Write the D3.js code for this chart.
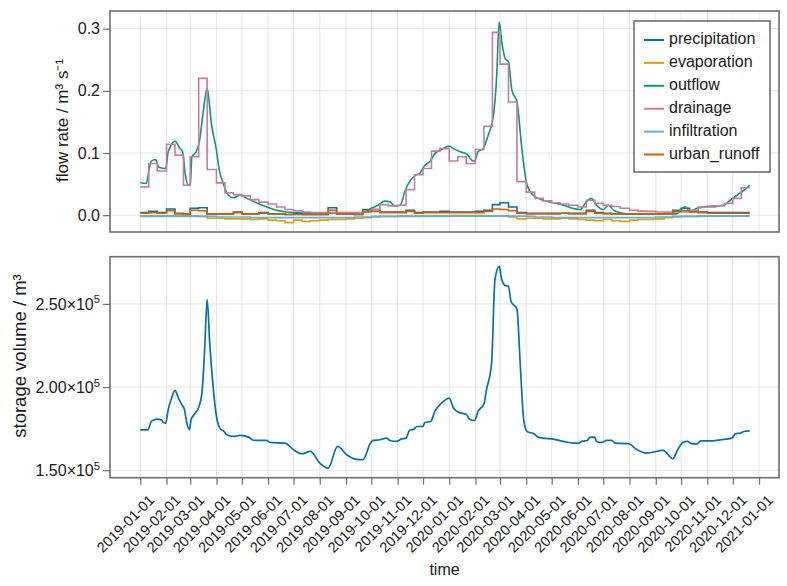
<!DOCTYPE html>
<html><head><meta charset="utf-8">
<script src="https://cdn.jsdelivr.net/npm/d3@7"></script>
<style>
body{margin:0;background:#fff;}
svg{display:block;font-family:"Liberation Sans",Arial,Helvetica,sans-serif;}
</style>
</head><body>
<svg id="chart" width="787" height="586"></svg>
<script>
// ---------------- DATA ----------------
const monthTicks = ["2019-01-01","2019-02-01","2019-03-01","2019-04-01","2019-05-01","2019-06-01","2019-07-01","2019-08-01","2019-09-01","2019-10-01","2019-11-01","2019-12-01","2020-01-01","2020-02-01","2020-03-01","2020-04-01","2020-05-01","2020-06-01","2020-07-01","2020-08-01","2020-09-01","2020-10-01","2020-11-01","2020-12-01","2021-01-01"];
const flowTicks = [0, 0.1, 0.2, 0.3];
const flowTickLabels = ["0.0","0.1","0.2","0.3"];
const storageTicks = [150000, 200000, 250000];
const storageTickMantissa = ["1.50","2.00","2.50"];

const seriesNames = ["precipitation","evaporation","outflow","drainage","infiltration","urban_runoff"];
const seriesColors = ["#0072B2","#E69F00","#009E73","#CC79A7","#56B4E9","#D55E00"];

// dekad boundaries (last entry closes the final step)
const dekadDates = ["2019-01-01","2019-01-11","2019-01-21","2019-02-01","2019-02-11","2019-02-21","2019-03-01","2019-03-11","2019-03-21","2019-04-01","2019-04-11","2019-04-21","2019-05-01","2019-05-11","2019-05-21","2019-06-01","2019-06-11","2019-06-21","2019-07-01","2019-07-11","2019-07-21","2019-08-01","2019-08-11","2019-08-21","2019-09-01","2019-09-11","2019-09-21","2019-10-01","2019-10-11","2019-10-21","2019-11-01","2019-11-11","2019-11-21","2019-12-01","2019-12-11","2019-12-21",
"2020-01-01","2020-01-11","2020-01-21","2020-02-01","2020-02-11","2020-02-21","2020-03-01","2020-03-11","2020-03-21","2020-04-01","2020-04-11","2020-04-21","2020-05-01","2020-05-11","2020-05-21","2020-06-01","2020-06-11","2020-06-21","2020-07-01","2020-07-11","2020-07-21","2020-08-01","2020-08-11","2020-08-21","2020-09-01","2020-09-11","2020-09-21","2020-10-01","2020-10-11","2020-10-21","2020-11-01","2020-11-11","2020-11-21","2020-12-01","2020-12-11","2020-12-21"];

const precipitation = [0.004,0.006,0.004, 0.010,0.003,0.002, 0.011,0.012,0.002, 0.002,0.002,0.005, 0.002,0.002,0.004, 0.002,0.002,0.001, 0.002,0.001,0.001, 0.001,0.012,0.002, 0.002,0.001,0.009, 0.009,0.005,0.005, 0.005,0.008,0.004, 0.005,0.005,0.006,
 0.005,0.005,0.005, 0.006,0.008,0.017, 0.020,0.013,0.004, 0.003,0.003,0.003, 0.003,0.003,0.003, 0.003,0.008,0.004, 0.003,0.002,0.002, 0.002,0.002,0.002, 0.002,0.003,0.008, 0.011,0.006,0.005, 0.004,0.004,0.004, 0.004,0.004];

const evaporation = [-0.001,-0.001,-0.001, -0.001,-0.001,-0.001, -0.001,-0.002,-0.005, -0.005,-0.006,-0.006, -0.006,-0.007,-0.006, -0.008,-0.009,-0.012, -0.008,-0.010,-0.009, -0.008,-0.007,-0.007, -0.006,-0.005,-0.004, -0.003,-0.002,-0.002, -0.001,-0.001,-0.001, -0.001,-0.001,-0.001,
 -0.0005,-0.0005,-0.0005, -0.0005,-0.001,-0.001, -0.001,-0.003,-0.006, -0.005,-0.005,-0.006, -0.006,-0.005,-0.006, -0.007,-0.008,-0.009, -0.007,-0.009,-0.010, -0.008,-0.007,-0.007, -0.006,-0.004,-0.003, -0.002,-0.002,-0.001, -0.001,-0.001,-0.001, -0.001,-0.001];

const drainage = [0.0455,0.083,0.071, 0.114,0.0965,0.048, 0.094,0.220,0.0735, 0.052,0.036,0.033, 0.031,0.025,0.021, 0.018,0.013,0.009, 0.007,0.005,0.004, 0.004,0.004,0.004, 0.004,0.004,0.005, 0.009,0.017,0.015, 0.016,0.041,0.065, 0.075,0.103,0.107,
 0.087,0.094,0.083, 0.1055,0.143,0.294, 0.243,0.182,0.054, 0.037,0.027,0.023, 0.020,0.018,0.016, 0.013,0.024,0.019, 0.016,0.014,0.011, 0.008,0.0065,0.006, 0.005,0.005,0.005, 0.005,0.008,0.013, 0.013,0.015,0.019, 0.027,0.044];

const infiltration = [-0.002,-0.002,-0.002, -0.002,-0.002,-0.002, -0.002,-0.002,-0.002, -0.003,-0.003,-0.003, -0.003,-0.004,-0.004, -0.004,-0.004,-0.004, -0.004,-0.004,-0.004, -0.004,-0.004,-0.004, -0.004,-0.003,-0.003, -0.002,-0.002,-0.002, -0.002,-0.002,-0.002, -0.002,-0.002,-0.002,
 -0.0015,-0.0015,-0.0015, -0.0015,-0.0015,-0.0015, -0.0015,-0.0015,-0.0015, -0.002,-0.003,-0.003, -0.004,-0.004,-0.004, -0.004,-0.004,-0.004, -0.004,-0.004,-0.004, -0.004,-0.004,-0.004, -0.003,-0.003,-0.002, -0.002,-0.002,-0.002, -0.0015,-0.0015,-0.0015, -0.0015,-0.0015];

const urbanRunoff = [0.003,0.004,0.003, 0.007,0.002,0.002, 0.008,0.007,0.002, 0.002,0.002,0.004, 0.002,0.002,0.003, 0.002,0.002,0.001, 0.001,0.001,0.001, 0.001,0.008,0.002, 0.002,0.001,0.006, 0.006,0.004,0.004, 0.004,0.006,0.003, 0.004,0.004,0.004,
 0.004,0.004,0.004, 0.004,0.006,0.010, 0.009,0.007,0.003, 0.002,0.002,0.002, 0.002,0.003,0.002, 0.002,0.006,0.003, 0.002,0.002,0.002, 0.002,0.002,0.002, 0.002,0.002,0.006, 0.007,0.005,0.004, 0.003,0.003,0.003, 0.003,0.003];

const outflowDates = ["2019-01-01","2019-01-08","2019-01-12","2019-01-14","2019-01-19","2019-01-23","2019-01-31","2019-02-03","2019-02-11","2019-02-17","2019-02-20","2019-02-23","2019-02-27","2019-03-01","2019-03-03","2019-03-08","2019-03-12","2019-03-16","2019-03-21","2019-03-26","2019-04-01","2019-04-04","2019-04-09","2019-04-15","2019-04-21","2019-04-29","2019-05-07","2019-05-18","2019-05-30","2019-06-11","2019-06-21","2019-07-05","2019-07-30","2019-08-24","2019-09-21","2019-10-01","2019-10-09","2019-10-17","2019-10-23","2019-10-29","2019-11-04","2019-11-10","2019-11-16","2019-11-22","2019-11-27","2019-12-03","2019-12-09","2019-12-15","2019-12-23",
"2020-01-01","2020-01-06","2020-01-14","2020-01-22","2020-01-28","2020-01-31","2020-02-04","2020-02-10","2020-02-16","2020-02-22","2020-02-26","2020-02-29","2020-03-03","2020-03-07","2020-03-11","2020-03-15","2020-03-21","2020-03-27","2020-04-02","2020-04-09","2020-04-21","2020-05-03","2020-05-15","2020-05-27","2020-06-04","2020-06-10","2020-06-17","2020-06-23","2020-07-01","2020-07-07","2020-07-13","2020-07-21","2020-08-02","2020-09-26","2020-09-30","2020-10-06","2020-10-11","2020-10-20","2020-10-27","2020-11-08","2020-11-20","2020-11-28","2020-12-06","2020-12-14","2020-12-21"];
const outflowValues = [0.052,0.051,0.078,0.087,0.0895,0.077,0.075,0.102,0.119,0.107,0.102,0.067,0.048,0.050,0.094,0.102,0.120,0.163,0.204,0.147,0.104,0.075,0.051,0.032,0.028,0.032,0.027,0.020,0.0134,0.008,0.0054,0.004,0.003,0.003,0.004,0.011,0.016,0.0225,0.021,0.0145,0.016,0.040,0.056,0.064,0.067,0.080,0.086,0.099,0.1056,
0.111,0.107,0.102,0.098,0.088,0.087,0.102,0.107,0.1286,0.158,0.222,0.311,0.279,0.252,0.2465,0.201,0.182,0.1045,0.048,0.032,0.024,0.020,0.016,0.0107,0.009,0.020,0.027,0.016,0.009,0.016,0.008,0.004,0.0016,0.002,0.008,0.0134,0.006,0.011,0.013,0.0145,0.016,0.024,0.032,0.040,0.048];

const storageDates = ["2019-01-01","2019-01-10","2019-01-14","2019-01-20","2019-01-26","2019-01-28","2019-01-31","2019-02-03","2019-02-07","2019-02-11","2019-02-15","2019-02-19","2019-02-22","2019-02-25","2019-02-28","2019-03-02","2019-03-07","2019-03-11","2019-03-15","2019-03-18","2019-03-21","2019-03-24","2019-03-28","2019-04-01","2019-04-05","2019-04-10","2019-04-13","2019-04-21","2019-04-29","2019-05-09","2019-05-15","2019-05-30","2019-06-03","2019-06-21","2019-07-01","2019-07-11","2019-07-21","2019-08-01","2019-08-11","2019-08-22","2019-09-02","2019-09-12","2019-09-21","2019-09-30","2019-10-03","2019-10-11","2019-10-19","2019-10-23","2019-10-31","2019-11-05","2019-11-11","2019-11-15","2019-11-20","2019-11-24","2019-12-01","2019-12-03","2019-12-10","2019-12-15","2019-12-23",
"2020-01-01","2020-01-06","2020-01-12","2020-01-21","2020-01-25","2020-01-31","2020-02-04","2020-02-11","2020-02-14","2020-02-20","2020-02-24","2020-02-29","2020-03-03","2020-03-07","2020-03-11","2020-03-14","2020-03-21","2020-03-25","2020-03-29","2020-04-02","2020-04-10","2020-04-15","2020-04-21","2020-05-03","2020-05-15","2020-05-27","2020-06-02","2020-06-06","2020-06-12","2020-06-15","2020-06-21","2020-06-23","2020-06-29","2020-07-05","2020-07-11","2020-07-15","2020-07-31","2020-08-10","2020-08-21","2020-09-10","2020-09-21","2020-09-27","2020-10-03","2020-10-08","2020-10-14","2020-10-20","2020-10-24","2020-11-08","2020-11-16","2020-11-30","2020-12-04","2020-12-10","2020-12-14","2020-12-21"];
const storageValues = [174300,174300,179300,180700,180300,178700,178300,186400,193400,198000,193400,189400,186800,178300,174300,180300,184400,187800,197400,222500,252600,226500,200400,182300,175300,173300,171300,170300,170900,169900,167900,167900,166700,166300,162300,159900,161300,154300,151300,164300,159300,156700,156300,166300,167900,168300,169300,167900,167300,168700,169300,173900,174700,176300,176300,178700,179300,185400,190400,
193400,187400,184800,183600,180700,179900,185400,190000,198400,214000,264600,272600,264600,261200,260600,251500,246900,212400,180300,173300,171900,169900,169300,168700,167300,166300,166300,167500,167900,169700,169900,167300,166700,167900,167900,166300,165900,162300,160300,161900,156900,162300,166700,167300,165900,165900,167700,167700,168300,169300,171900,172300,173300,173700];

// ---------------- LAYOUT ----------------
const L = 110, R = 779;
const P1 = {top: 11, bottom: 232};
const P2 = {top: 256.7, bottom: 477.7};
const FS_TICK = 16, FS_LEG = 16, FS_XTICK = 14.5;
const frameColor = "#6f6f6f";
const gridColor = "#e6e6e6";
const textColor = "#1a1a1a";

const parse = d3.utcParse("%Y-%m-%d");
const svg = d3.select("#chart");

const x = d3.scaleUtc()
  .domain([new Date(Date.UTC(2018,10,26,4,48)), new Date(Date.UTC(2021,0,24,14,24))])
  .range([L, R]);
const y1 = d3.scaleLinear().domain([-0.0271, 0.3284]).range([P1.bottom, P1.top]);
const y2 = d3.scaleLinear().domain([145500, 278400]).range([P2.bottom, P2.top]);

const ticksDates = monthTicks.map(parse);

// clip paths
const defs = svg.append("defs");
[["c1",P1],["c2",P2]].forEach(([id,P])=>{
  defs.append("clipPath").attr("id",id).append("rect")
    .attr("x",L).attr("y",P.top).attr("width",R-L).attr("height",P.bottom-P.top);
});

function panelGrid(P, yScale, yTicks){
  const g = svg.append("g");
  g.selectAll("line.v").data(ticksDates).join("line")
    .attr("x1",d=>x(d)).attr("x2",d=>x(d)).attr("y1",P.top).attr("y2",P.bottom)
    .attr("stroke",gridColor).attr("stroke-width",1);
  g.selectAll("line.h").data(yTicks).join("line")
    .attr("x1",L).attr("x2",R).attr("y1",d=>yScale(d)).attr("y2",d=>yScale(d))
    .attr("stroke",gridColor).attr("stroke-width",1);
}
panelGrid(P1, y1, flowTicks);
panelGrid(P2, y2, storageTicks);

// ---------------- TOP PANEL SERIES ----------------
const stepSeries = {
  precipitation: precipitation,
  evaporation: evaporation,
  drainage: drainage,
  infiltration: infiltration,
  urban_runoff: urbanRunoff
};
const stepLine = d3.line().x(d=>x(d[0])).y(d=>y1(d[1])).curve(d3.curveStepAfter);
const smoothLine = d3.line().x(d=>x(d[0])).y(d=>y1(d[1])).curve(d3.curveMonotoneX);

const g1 = svg.append("g").attr("clip-path","url(#c1)");
seriesNames.forEach((name,i)=>{
  let pts;
  if(name === "outflow"){
    pts = outflowDates.map((d,k)=>[parse(d), outflowValues[k]]);
    g1.append("path").attr("d", smoothLine(pts))
      .attr("fill","none").attr("stroke",seriesColors[i]).attr("stroke-width",1.6)
      .attr("stroke-linejoin","round");
  } else {
    const vals = stepSeries[name];
    pts = vals.map((v,k)=>[parse(dekadDates[k]), v]);
    pts.push([parse(dekadDates[vals.length]), vals[vals.length-1]]);
    g1.append("path").attr("d", stepLine(pts))
      .attr("fill","none").attr("stroke",seriesColors[i]).attr("stroke-width",1.6);
  }
});

// ---------------- BOTTOM PANEL ----------------
const storageLine = d3.line().x(d=>x(d[0])).y(d=>y2(d[1])).curve(d3.curveMonotoneX);
svg.append("g").attr("clip-path","url(#c2)").append("path")
  .attr("d", storageLine(storageDates.map((d,k)=>[parse(d), storageValues[k]])))
  .attr("fill","none").attr("stroke","#0072B2").attr("stroke-width",1.7)
  .attr("stroke-linejoin","round");

// ---------------- AXES ----------------
function styleAxis(g, fs){
  g.select(".domain").remove();
  g.selectAll(".tick line").attr("stroke",frameColor).attr("stroke-width",1.2);
  g.selectAll(".tick text").attr("fill",textColor).attr("font-size",fs)
    .attr("font-family",'"Liberation Sans",Arial,Helvetica,sans-serif');
}
const ax1 = svg.append("g").attr("transform",`translate(${L},0)`)
  .call(d3.axisLeft(y1).tickValues(flowTicks).tickSize(7).tickPadding(3)
    .tickFormat((d,i)=>flowTickLabels[i]));
styleAxis(ax1, FS_TICK);

const ax2 = svg.append("g").attr("transform",`translate(${L},0)`)
  .call(d3.axisLeft(y2).tickValues(storageTicks).tickSize(7).tickPadding(3)
    .tickFormat(()=>""));
styleAxis(ax2, FS_TICK);
ax2.selectAll(".tick text").each(function(d,i){
  const t = d3.select(this);
  t.text(null);
  t.append("tspan").text(storageTickMantissa[i] + "×10");
  t.append("tspan").text("5").attr("font-size",FS_TICK*0.7).attr("dy","-0.55em");
});

const axX = svg.append("g").attr("transform",`translate(0,${P2.bottom})`)
  .call(d3.axisBottom(x).tickValues(ticksDates).tickSize(7)
    .tickFormat((d,i)=>monthTicks[i]));
styleAxis(axX, FS_XTICK);
axX.selectAll(".tick text")
  .attr("y",0).attr("x",0).attr("dy","0.72em")
  .attr("text-anchor","end")
  .attr("transform","translate(7,16) rotate(-45)");

// frames
[P1,P2].forEach(P=>{
  svg.append("rect").attr("x",L).attr("y",P.top).attr("width",R-L).attr("height",P.bottom-P.top)
    .attr("fill","none").attr("stroke",frameColor).attr("stroke-width",1.6);
});

// axis labels
svg.append("text").attr("transform",`translate(64,${(P1.top+P1.bottom)/2 - 1}) rotate(-90)`)
  .attr("text-anchor","middle").attr("dominant-baseline","middle")
  .attr("font-size",17).attr("fill",textColor)
  .text("flow rate / m³ s⁻¹");
svg.append("text").attr("transform",`translate(21,356) rotate(-90)`)
  .attr("text-anchor","middle").attr("dominant-baseline","middle")
  .attr("font-size",18.5).attr("fill",textColor)
  .text("storage volume / m³");
svg.append("text").attr("x",(L+R)/2).attr("y",571)
  .attr("text-anchor","middle").attr("dominant-baseline","middle")
  .attr("font-size",16).attr("fill",textColor).text("time");

// ---------------- LEGEND ----------------
const lg = svg.append("g").attr("transform","translate(634,21)");
lg.append("rect").attr("width",136).attr("height",151)
  .attr("fill","#fff").attr("stroke",frameColor).attr("stroke-width",1.6);
seriesNames.forEach((name,i)=>{
  const yy = 19 + i*22.9;
  lg.append("line").attr("x1",10).attr("x2",30).attr("y1",yy).attr("y2",yy)
    .attr("stroke",seriesColors[i]).attr("stroke-width",2);
  lg.append("text").attr("x",35).attr("y",yy).attr("dominant-baseline","middle")
    .attr("font-size",FS_LEG).attr("fill",textColor).text(name);
});
</script>
</body></html>
